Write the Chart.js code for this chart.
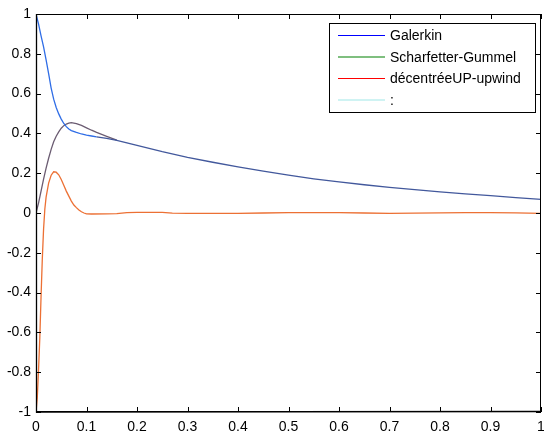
<!DOCTYPE html>
<html>
<head>
<meta charset="utf-8">
<script src="https://cdn.jsdelivr.net/npm/chart.js@4"></script>
<style>
  html, body { margin: 0; padding: 0; background: #fff; }
  #wrap { width: 544px; height: 431px; }
</style>
</head>
<body>
<div id="wrap"><canvas id="grafico" width="544" height="431"></canvas></div>
<script>
// series
var nomes = ['Galerkin', 'Scharfetter-Gummel', 'décentréeUP-upwind', ':']

var xGalerkin = [0, 0.005, 0.01, 0.015, 0.02, 0.025, 0.03, 0.035, 0.04, 0.045, 0.05, 0.055, 0.06, 0.065, 0.07, 0.08, 0.09, 0.1, 0.11, 0.12, 0.14, 0.16, 0.18, 0.2, 0.25, 0.3, 0.35, 0.4, 0.45, 0.5, 0.55, 0.6, 0.65, 0.7, 0.75, 0.8, 0.85, 0.9, 0.95, 1]
var yGalerkin = [1, 0.95, 0.89, 0.835, 0.77, 0.7, 0.628, 0.572, 0.53, 0.498, 0.472, 0.45, 0.434, 0.422, 0.414, 0.405, 0.397, 0.391, 0.387, 0.383, 0.375, 0.365, 0.352, 0.34, 0.308, 0.28, 0.255, 0.232, 0.21, 0.19, 0.172, 0.156, 0.142, 0.129, 0.117, 0.106, 0.096, 0.087, 0.077, 0.068]

var xSG = [0, 0.005, 0.01, 0.015, 0.02, 0.025, 0.03, 0.035, 0.04, 0.045, 0.05, 0.055, 0.06, 0.065, 0.07, 0.08, 0.09, 0.1, 0.11, 0.12, 0.14, 0.16]
var ySG = [0, 0.05, 0.11, 0.17, 0.225, 0.275, 0.32, 0.358, 0.386, 0.408, 0.426, 0.439, 0.447, 0.452, 0.454, 0.449, 0.44, 0.428, 0.416, 0.405, 0.385, 0.366]

var xUpwind = [0, 0.0025, 0.005, 0.0075, 0.01, 0.0125, 0.015, 0.0175, 0.02, 0.025, 0.03, 0.035, 0.04, 0.045, 0.05, 0.055, 0.06, 0.065, 0.07, 0.075, 0.08, 0.085, 0.09, 0.095, 0.1, 0.11, 0.14, 0.16, 0.18, 0.2, 0.25, 0.27, 0.3, 0.35, 0.4, 0.45, 0.5, 0.55, 0.6, 0.65, 0.7, 0.75, 0.8, 0.85, 0.9, 0.95, 1]
var yUpwind = [-1, -0.93, -0.79, -0.63, -0.42, -0.23, -0.08, 0.02, 0.08, 0.15, 0.19, 0.207, 0.205, 0.192, 0.168, 0.14, 0.11, 0.085, 0.06, 0.04, 0.027, 0.015, 0.006, 0, -0.004, -0.005, -0.004, -0.003, 0.002, 0.003, 0.003, -0.001, -0.002, -0.002, -0.002, 0, 0.002, 0.002, 0.002, 0, -0.002, -0.001, 0.001, 0.002, 0.002, 0.001, -0.002]

var xTicks = ['0', '0.1', '0.2', '0.3', '0.4', '0.5', '0.6', '0.7', '0.8', '0.9', '1']
var yTicks = ['-1', '-0.8', '-0.6', '-0.4', '-0.2', '0', '0.2', '0.4', '0.6', '0.8', '1']

var coresLegenda = ['#0000ff', '#008000', '#ff0000', '#9fe8e8']
var fonte = '14px "Liberation Sans", Arial, sans-serif'

function pontos(xs, ys) {
  var r = []
  for (var i = 0; i < xs.length; i++) r.push({ x: xs[i], y: ys[i] })
  return r
}

// box, inward ticks and the legend box, matlab style
var caixa = {
  id: 'caixa',
  afterDraw: function(chart) {
    var c = chart.ctx, a = chart.chartArea
    var sx = chart.scales.x, sy = chart.scales.y
    c.save()
    c.strokeStyle = '#000'
    c.lineWidth = 1
    c.strokeRect(a.left + 0.5, a.top + 0.5, a.right - a.left - 1, a.bottom - a.top - 1)
    c.lineWidth = 1.3
    c.beginPath()
    c.moveTo(a.left + 0.5, a.top); c.lineTo(a.left + 0.5, a.bottom)
    c.lineTo(a.right, a.bottom - 0.5)
    c.stroke()
    c.lineWidth = 1
    c.beginPath()
    sx.ticks.forEach(function(t) {
      var px = Math.round(sx.getPixelForValue(t.value)) + 0.5
      c.moveTo(px, a.bottom); c.lineTo(px, a.bottom - 5)
      c.moveTo(px, a.top); c.lineTo(px, a.top + 5)
    })
    sy.ticks.forEach(function(t) {
      var py = Math.round(sy.getPixelForValue(t.value)) + 0.5
      c.moveTo(a.left, py); c.lineTo(a.left + 5, py)
      c.moveTo(a.right, py); c.lineTo(a.right - 5, py)
    })
    c.stroke()

    // legend
    var bx = 329, by = 23, bw = 206, bh = 89
    c.fillStyle = '#fff'
    c.fillRect(bx, by, bw, bh)
    c.strokeStyle = '#000'
    c.strokeRect(bx + 0.5, by + 0.5, bw, bh)
    c.font = fonte
    c.textBaseline = 'middle'
    c.textAlign = 'left'
    for (var i = 0; i < nomes.length; i++) {
      var ly = 35.5 + i * 21.5
      c.strokeStyle = coresLegenda[i]
      c.lineWidth = 1.2
      c.beginPath()
      c.moveTo(338, ly); c.lineTo(385, ly)
      c.stroke()
      c.fillStyle = '#000'
      c.fillText(nomes[i], 390, ly + 1)
    }
    c.restore()
  }
}

const ctx = document.getElementById('grafico')
new Chart(ctx, {
  type: 'line',
  data: {
    datasets: [{
      label: nomes[2],
      data: pontos(xUpwind, yUpwind),
      borderColor: '#ec7034',
      borderWidth: 1.3
    }, {
      label: nomes[0],
      data: pontos(xGalerkin, yGalerkin),
      borderColor: '#2f6de6',
      borderWidth: 1.3,
      segment: {
        borderColor: function(s) { return s.p0.parsed.x >= 0.12 ? '#42589c' : undefined }
      }
    }, {
      label: nomes[1],
      data: pontos(xSG, ySG),
      borderColor: '#6b5c72',
      borderWidth: 1.3
    }, {
      label: nomes[3],
      data: [],
      borderColor: coresLegenda[3]
    }]
  },
  options: {
    responsive: false,
    animation: false,
    elements: { point: { radius: 0 }, line: { tension: 0 } },
    layout: { padding: { top: 14, right: 3, left: 0, bottom: 0 } },
    scales: {
      x: {
        type: 'linear',
        min: 0, max: 1,
        grid: { display: false, drawTicks: false },
        border: { display: false },
        afterFit: function(s) { s.height = 19; s.paddingRight = 0; s.paddingLeft = 0 },
        ticks: {
          stepSize: 0.1,
          padding: 7,
          maxRotation: 0,
          color: '#000',
          font: { family: '"Liberation Sans", Arial, sans-serif', size: 14 },
          callback: function(v, i) { return xTicks[i] }
        }
      },
      y: {
        min: -1, max: 1,
        grid: { display: false, drawTicks: false },
        border: { display: false },
        afterFit: function(s) { s.width = 36; s.paddingTop = 0; s.paddingBottom = 0 },
        ticks: {
          stepSize: 0.2,
          padding: 5,
          color: '#000',
          font: { family: '"Liberation Sans", Arial, sans-serif', size: 14 },
          callback: function(v, i) { return yTicks[i] }
        }
      }
    },
    plugins: { legend: { display: false }, tooltip: { enabled: false } }
  },
  plugins: [caixa]
})
</script>
</body>
</html>
